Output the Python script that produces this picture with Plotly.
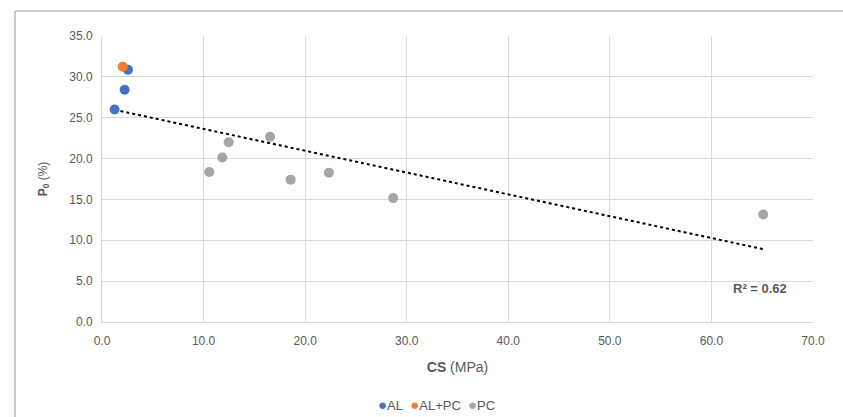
import numpy as np
import plotly.graph_objects as go

# Data
al_cs = [1.24, 2.23, 2.56]
al_p0 = [26.0, 28.43, 30.88]
alpc_cs = [2.04]
alpc_p0 = [31.25]
pc_cs = [10.56, 11.84, 12.47, 16.54, 18.57, 22.34, 28.67, 65.1]
pc_p0 = [18.35, 20.14, 22.0, 22.68, 17.42, 18.28, 15.16, 13.16]

x_ticks = [0, 10, 20, 30, 40, 50, 60, 70]
y_ticks = [0, 5, 10, 15, 20, 25, 30, 35]
r2_label = "R² = 0.62"
series_names = ["AL", "AL+PC", "PC"]

colors = {"AL": "#4472C4", "AL+PC": "#ED7D31", "PC": "#A5A5A5"}
FONT = "Liberation Sans, Arial, sans-serif"
GRAY = "#595959"

# linear trendline fitted on all points
all_x = np.array(al_cs + alpc_cs + pc_cs)
all_y = np.array(al_p0 + alpc_p0 + pc_p0)
slope, intercept = np.polyfit(all_x, all_y, 1)
tx = np.array([all_x.min(), all_x.max()])
ty = slope * tx + intercept

fig = go.Figure()
fig.add_trace(go.Scatter(x=tx, y=ty, mode="lines", showlegend=False,
                         line=dict(color="black", width=2, dash="dot"),
                         hoverinfo="skip"))
for name, xs, ys in [("AL", al_cs, al_p0), ("AL+PC", alpc_cs, alpc_p0), ("PC", pc_cs, pc_p0)]:
    fig.add_trace(go.Scatter(x=xs, y=ys, mode="markers", name=name, showlegend=False,
                             marker=dict(color=colors[name], size=10)))

fig.add_annotation(x=65.1, y=4.1, xref="x", yref="y", text="<b>" + r2_label + "</b>",
                   showarrow=False, xanchor="right", yanchor="middle",
                   font=dict(family=FONT, size=13, color=GRAY), xshift=26)

# compact legend drawn as a text line
legend_text = "&nbsp;&nbsp;".join(
    f'<span style="color:{colors[n]};font-size:15px">●</span>{n}' for n in series_names)
fig.add_annotation(x=0.471, y=-0.29, xref="paper", yref="paper", text=legend_text,
                   showarrow=False, xanchor="center", yanchor="middle",
                   font=dict(family=FONT, size=13, color=GRAY))

# outer chart border (top and left visible)
fig.add_shape(type="line", xref="paper", yref="paper", x0=-0.1224, x1=1.1, y0=1.0874, y1=1.0874,
              line=dict(color="#A6A6A6", width=1.2))
fig.add_shape(type="line", xref="paper", yref="paper", x0=-0.1224, x1=-0.1224, y0=1.0874, y1=-0.5,
              line=dict(color="#A6A6A6", width=1.2))

fig.update_layout(
    width=843, height=417,
    margin=dict(l=102, r=30, t=36, b=95),
    paper_bgcolor="white", plot_bgcolor="white",
    font=dict(family=FONT, size=12, color=GRAY),
    showlegend=False,
    xaxis=dict(range=[0, 70], tickvals=x_ticks, ticktext=[f"{v:.1f}" for v in x_ticks],
               showgrid=True, gridcolor="#D9D9D9", gridwidth=1,
               zeroline=False, showline=True, linecolor="#D9D9D9", linewidth=1,
               ticks="", tickfont=dict(size=12, color=GRAY), ticklabelstandoff=8,
               title=dict(text="<b>CS</b> (MPa)", font=dict(size=14, color=GRAY), standoff=14)),
    yaxis=dict(range=[0, 35], tickvals=y_ticks, ticktext=[f"{v:.1f}" for v in y_ticks],
               showgrid=True, gridcolor="#D9D9D9", gridwidth=1,
               zeroline=False, showline=True, linecolor="#D9D9D9", linewidth=1,
               ticks="", tickfont=dict(size=12, color=GRAY), ticklabelstandoff=6,
               title=dict(text="<b>P<sub>0</sub></b> (%)", font=dict(size=12, color=GRAY), standoff=19)),
)

fig.write_html("out.html")
